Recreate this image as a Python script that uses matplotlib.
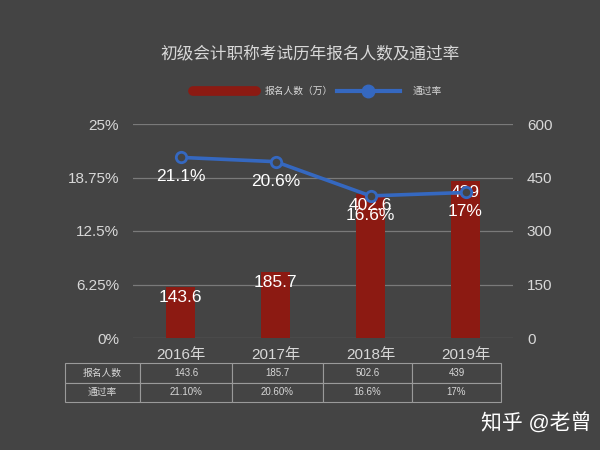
import matplotlib
matplotlib.use("Agg")
import matplotlib.pyplot as plt

plt.rcParams['font.family'] = ['Liberation Sans', 'Noto Sans CJK SC', 'DejaVu Sans']

years = ["2016年", "2017年", "2018年", "2019年"]
applicants = [143.6, 185.7, 402.6, 439]          # bar heights as drawn (万)
pass_rate = [21.1, 20.6, 16.6, 17.0]             # %
table_applicants = ["143.6", "185.7", "502.6", "439"]
table_rates = ["21.10%", "20.60%", "16.6%", "17%"]
rate_labels = ["21.1%", "20.6%", "16.6%", "17%"]

BG = "#444444"
RED = "#8c1a12"
BLUE = "#3568c0"
TXT = "#d8d8d8"
GRID = "#7a7a7a"

W, H = 600, 450
fig = plt.figure(figsize=(6, 4.5), dpi=100, facecolor=BG)

def px(l, t, r, b):
    return [l / W, 1 - b / H, (r - l) / W, (b - t) / H]

ax = fig.add_axes(px(133, 124, 513, 338))
ax2 = ax.twinx()
ax.set_zorder(ax2.get_zorder() + 1)
ax.patch.set_visible(False)
ax2.set_facecolor(BG)

x = list(range(len(years)))
ax2.bar(x, applicants, width=0.31, color=RED, zorder=2)
ax2.set_ylim(0, 600)
ax2.set_yticks([0, 150, 300, 450, 600])
ax2.yaxis.grid(True, color=GRID, lw=0.9, zorder=0)
ax2.set_axisbelow(True)
for xi, v in zip(x, applicants):
    ax2.annotate(f"{v:g}", (xi, v), textcoords="offset points", xytext=(0, -8),
                 ha="center", va="center", color="white", fontsize=12.5, zorder=5)

ax.plot(x, pass_rate, color=BLUE, lw=2.6, marker="o", ms=7.5, mfc=BG,
        mec=BLUE, mew=2, zorder=3)
ax.set_ylim(0, 25)
ax.set_yticks([0, 6.25, 12.5, 18.75, 25])
ax.set_yticklabels(["0%", "6.25%", "12.5%", "18.75%", "25%"])
for xi, v, lab in zip(x, pass_rate, rate_labels):
    ax.annotate(lab, (xi, v), textcoords="offset points", xytext=(0, -14),
                ha="center", va="center", color="white", fontsize=12.5, zorder=5)

ax.set_xlim(-0.5, 3.5)
ax.set_xticks(x)
ax.set_xticklabels(years, fontsize=11.5, color=TXT)
for a in (ax, ax2):
    for s in a.spines.values():
        s.set_visible(False)
    a.tick_params(length=0, colors=TXT, labelsize=11)
ax.tick_params(axis="y", pad=10)
ax.tick_params(axis="x", pad=7)
ax2.tick_params(axis="y", pad=10)

# data table under the plot
tax = fig.add_axes(px(65, 363, 501, 402))
tax.axis("off")
tbl = tax.table(cellText=[["报名人数"] + table_applicants, ["通过率"] + table_rates],
                bbox=[0, 0, 1, 1], colWidths=[75, 92, 91, 89, 89], cellLoc="center")
tbl.auto_set_font_size(False)
for cell in tbl.get_celld().values():
    cell.set_facecolor(BG)
    cell.set_edgecolor("#9a9a9a")
    cell.set_linewidth(0.8)
    cell.get_text().set_color(TXT)
    cell.get_text().set_fontsize(7)

fig.text(310 / W, 1 - 53 / H, "初级会计职称考试历年报名人数及通过率", ha="center",
         va="center", color=TXT, fontsize=12)

# legend
lax = fig.add_axes(px(185, 80, 460, 102))
lax.axis("off")
lax.set_xlim(185, 460)
lax.set_ylim(0, 1)
lax.plot([193, 256], [0.5, 0.5], color=RED, lw=7, solid_capstyle="round")
lax.text(265, 0.5, "报名人数（万）", color=TXT, fontsize=7, va="center")
lax.plot([337, 400], [0.5, 0.5], color=BLUE, lw=3)
lax.plot([368], [0.5], "o", color=BLUE, ms=9)
lax.text(413, 0.5, "通过率", color=TXT, fontsize=7, va="center")

fig.text(536 / W, 1 - 423 / H, "知乎 @老曾", ha="center", va="center",
         color="white", fontsize=15)

fig.savefig("out.png", dpi=100, facecolor=BG)
